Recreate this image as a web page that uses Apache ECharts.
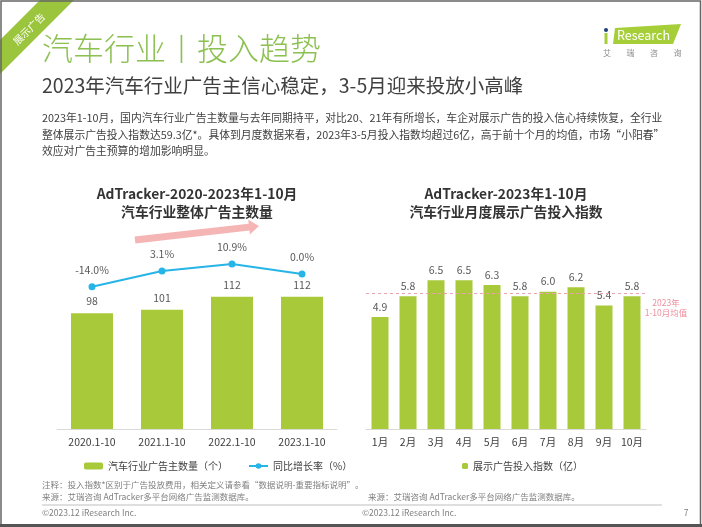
<!DOCTYPE html>
<html><head><meta charset="utf-8">
<script src="https://cdn.jsdelivr.net/npm/echarts@6/dist/echarts.min.js"></script>
<style>html,body{margin:0;padding:0;background:#fff}#c{width:702px;height:527px}</style>
</head><body><div id="c"></div>
<script>
// ---- data ----
const advertiserCategories = ['2020.1-10', '2021.1-10', '2022.1-10', '2023.1-10'];
const advertiserCounts = [98, 101, 112, 112];
const yoyGrowth = [-14.0, 3.1, 10.9, 0.0];
const months = ['1月', '2月', '3月', '4月', '5月', '6月', '7月', '8月', '9月', '10月'];
const adIndex = [4.9, 5.8, 6.5, 6.5, 6.3, 5.8, 6.0, 6.2, 5.4, 5.8];
const avgIndex = 5.93;

const seriesNames = ['汽车行业广告主数量（个）', '同比增长率（%）', '展示广告投入指数（亿）'];
const paragraph = [
  '2023年1-10月，国内汽车行业广告主数量与去年同期持平，对比20、21年有所增长，车企对展示广告的投入信心持续恢复，全行业',
  '整体展示广告投入指数达59.3亿*。具体到月度数据来看，2023年3-5月投入指数均超过6亿，高于前十个月的均值，市场“小阳春”',
  '效应对广告主预算的增加影响明显。'
];

const FONT = "'Noto Sans CJK SC', 'Noto Sans', sans-serif";
const BAR = '#a8c93a';
const LINE = '#27b4e6';
const GREEN = '#8cc152';

// arrow polygon
function arrowPoints(sx, sy, tx, ty, body, head, headLen) {
  const dx = tx - sx, dy = ty - sy, L = Math.hypot(dx, dy);
  const ux = dx / L, uy = dy / L, nx = -uy, ny = ux;
  const bx = tx - headLen * ux, by = ty - headLen * uy;
  return [
    [sx + body * nx, sy + body * ny], [bx + body * nx, by + body * ny],
    [bx + head * nx, by + head * ny], [tx, ty],
    [bx - head * nx, by - head * ny], [bx - body * nx, by - body * ny],
    [sx - body * nx, sy - body * ny]
  ];
}

const graphics = [
  { type: 'rect', shape: { x: 1, y: 1, width: 699.5, height: 524 }, style: { fill: 'none', stroke: '#666', lineWidth: 1.5 }, z: 10 },
  { type: 'rect', shape: { x: 0, y: 524, width: 702, height: 3 }, style: { fill: '#555' }, z: 10 },
  { type: 'polygon', shape: { points: [[40, 0], [74, 0], [0, 74], [0, 40]] }, style: { fill: '#9bc53d' } },
  { type: 'text', x: 29, y: 29, rotation: Math.PI / 4, style: { text: '展示广告', fill: '#fff', font: '10px ' + FONT, textAlign: 'center', textVerticalAlign: 'middle' } },
  { type: 'text', x: 42, y: 48, style: { text: '汽车行业丨投入趋势', fill: GREEN, font: '300 31px ' + FONT, textVerticalAlign: 'middle' } },
  { type: 'text', x: 42, y: 86, style: { text: '2023年汽车行业广告主信心稳定，3-5月迎来投放小高峰', fill: '#404040', font: '19.5px ' + FONT, textVerticalAlign: 'middle' } },
  // logo
  { type: 'polygon', shape: { points: [[615, 28], [681, 24], [673, 44], [613, 44]] }, style: { fill: '#a6ce39' } },
  { type: 'text', x: 617, y: 35, style: { text: 'Research', fill: '#fff', font: '12.5px ' + FONT, textVerticalAlign: 'middle' } },
  { type: 'circle', shape: { cx: 606, cy: 30, r: 2 }, style: { fill: '#1d3f7a' } },
  { type: 'rect', shape: { x: 604.5, y: 33, width: 3, height: 11 }, style: { fill: '#a6ce39' } },
  // chart titles
  { type: 'text', x: 197, y: 194, style: { text: 'AdTracker-2020-2023年1-10月', fill: '#333', font: 'bold 13.8px ' + FONT, textAlign: 'center', textVerticalAlign: 'middle' } },
  { type: 'text', x: 197, y: 212, style: { text: '汽车行业整体广告主数量', fill: '#333', font: 'bold 13.8px ' + FONT, textAlign: 'center', textVerticalAlign: 'middle' } },
  { type: 'text', x: 506, y: 194, style: { text: 'AdTracker-2023年1-10月', fill: '#333', font: 'bold 13.8px ' + FONT, textAlign: 'center', textVerticalAlign: 'middle' } },
  { type: 'text', x: 506, y: 212, style: { text: '汽车行业月度展示广告投入指数', fill: '#333', font: 'bold 13.8px ' + FONT, textAlign: 'center', textVerticalAlign: 'middle' } },
  // arrow
  { type: 'polygon', shape: { points: arrowPoints(135, 240, 259, 226, 3.5, 7.5, 10) }, style: { fill: '#f5b5b5' } },
  // average label
  { type: 'text', x: 666, y: 303, style: { text: '2023年', fill: '#ef8f9c', font: '8.5px ' + FONT, textAlign: 'center', textVerticalAlign: 'middle' } },
  { type: 'text', x: 666, y: 313, style: { text: '1-10月均值', fill: '#ef8f9c', font: '8.5px ' + FONT, textAlign: 'center', textVerticalAlign: 'middle' } },
  // footer
  { type: 'text', x: 42, y: 485, style: { text: '注释：投入指数*区别于广告投放费用，相关定义请参看“数据说明-重要指标说明”。', fill: '#7f7f7f', font: '8.5px ' + FONT, textVerticalAlign: 'middle' } },
  { type: 'text', x: 42, y: 497, style: { text: '来源：艾瑞咨询 AdTracker多平台网络广告监测数据库。', fill: '#7f7f7f', font: '8.5px ' + FONT, textVerticalAlign: 'middle' } },
  { type: 'text', x: 368, y: 497, style: { text: '来源：艾瑞咨询 AdTracker多平台网络广告监测数据库。', fill: '#7f7f7f', font: '8.5px ' + FONT, textVerticalAlign: 'middle' } },
  { type: 'line', shape: { x1: 42, y1: 505, x2: 662, y2: 505 }, style: { stroke: '#bfbfbf', lineWidth: 1 } },
  { type: 'text', x: 42, y: 513, style: { text: '©2023.12 iResearch Inc.', fill: '#7f7f7f', font: '8.5px ' + FONT, textVerticalAlign: 'middle' } },
  { type: 'text', x: 362, y: 513, style: { text: '©2023.12 iResearch Inc.', fill: '#7f7f7f', font: '8.5px ' + FONT, textVerticalAlign: 'middle' } },
  { type: 'text', x: 686, y: 513, style: { text: '7', fill: '#7f7f7f', font: '8.5px ' + FONT, textAlign: 'center', textVerticalAlign: 'middle' } }
];
['艾', '瑞', '咨', '询'].forEach((ch, i) => {
  graphics.push({ type: 'text', x: 607 + i * 23.5, y: 53, style: { text: ch, fill: '#8c8c8c', font: '8px ' + FONT, textAlign: 'center', textVerticalAlign: 'middle' } });
});
paragraph.forEach((t, i) => {
  graphics.push({ type: 'text', x: 42, y: 118 + i * 16.5, style: { text: t, fill: '#404040', font: '10.8px ' + FONT, textVerticalAlign: 'middle' } });
});

const catAxisCommon = {
  type: 'category',
  axisLine: { lineStyle: { color: '#d9d9d9', width: 1 } },
  axisTick: { show: false },
  axisLabel: { color: '#404040', fontSize: 10.5, margin: 8, fontFamily: FONT, interval: 0 }
};

const option = {
  animation: false,
  backgroundColor: '#fff',
  textStyle: { fontFamily: FONT },
  grid: [
    { left: 57, width: 280, top: 252, height: 177 },
    { left: 366, width: 280, top: 246, height: 183 }
  ],
  xAxis: [
    Object.assign({ gridIndex: 0, data: advertiserCategories }, catAxisCommon),
    Object.assign({ gridIndex: 1, data: months }, catAxisCommon)
  ],
  yAxis: [
    { gridIndex: 0, type: 'value', min: 0, max: 150, show: false },
    { gridIndex: 0, type: 'value', min: -170, max: 24, show: false },
    { gridIndex: 1, type: 'value', min: 0, max: 8, show: false }
  ],
  legend: [
    {
      data: [seriesNames[0], seriesNames[1]], left: 84, top: 461, padding: 0,
      itemWidth: 19, itemHeight: 7, itemGap: 20,
      textStyle: { color: '#404040', fontSize: 10, fontFamily: FONT }
    },
    {
      data: [seriesNames[2]], left: 462, top: 461, padding: 0,
      itemWidth: 6, itemHeight: 6,
      textStyle: { color: '#404040', fontSize: 10, fontFamily: FONT }
    }
  ],
  graphic: graphics,
  series: [
    {
      name: seriesNames[0], type: 'bar', xAxisIndex: 0, yAxisIndex: 0,
      data: advertiserCounts, barWidth: 42, itemStyle: { color: BAR },
      label: { show: true, position: 'top', distance: 7, color: '#595959', fontSize: 10.5 }
    },
    {
      name: seriesNames[1], type: 'line', xAxisIndex: 0, yAxisIndex: 1,
      data: yoyGrowth, symbol: 'circle', symbolSize: 7,
      lineStyle: { color: LINE, width: 2 }, itemStyle: { color: LINE },
      label: { show: true, position: 'top', distance: 8, color: '#595959', fontSize: 10.5,
        formatter: p => p.value.toFixed(1) + '%' }
    },
    {
      name: seriesNames[2], type: 'bar', xAxisIndex: 1, yAxisIndex: 2,
      data: adIndex, barWidth: 17, itemStyle: { color: BAR },
      label: { show: true, position: 'top', distance: 5, color: '#595959', fontSize: 10.5,
        formatter: p => p.value.toFixed(1) },
      markLine: {
        silent: true, symbol: 'none', label: { show: false },
        lineStyle: { color: '#e8a3ab', type: [3, 3], width: 1 },
        data: [{ yAxis: avgIndex }]
      }
    }
  ]
};

const chart = echarts.init(document.getElementById('c'), null, { renderer: 'canvas' });
chart.setOption(option);
</script>
</body></html>
